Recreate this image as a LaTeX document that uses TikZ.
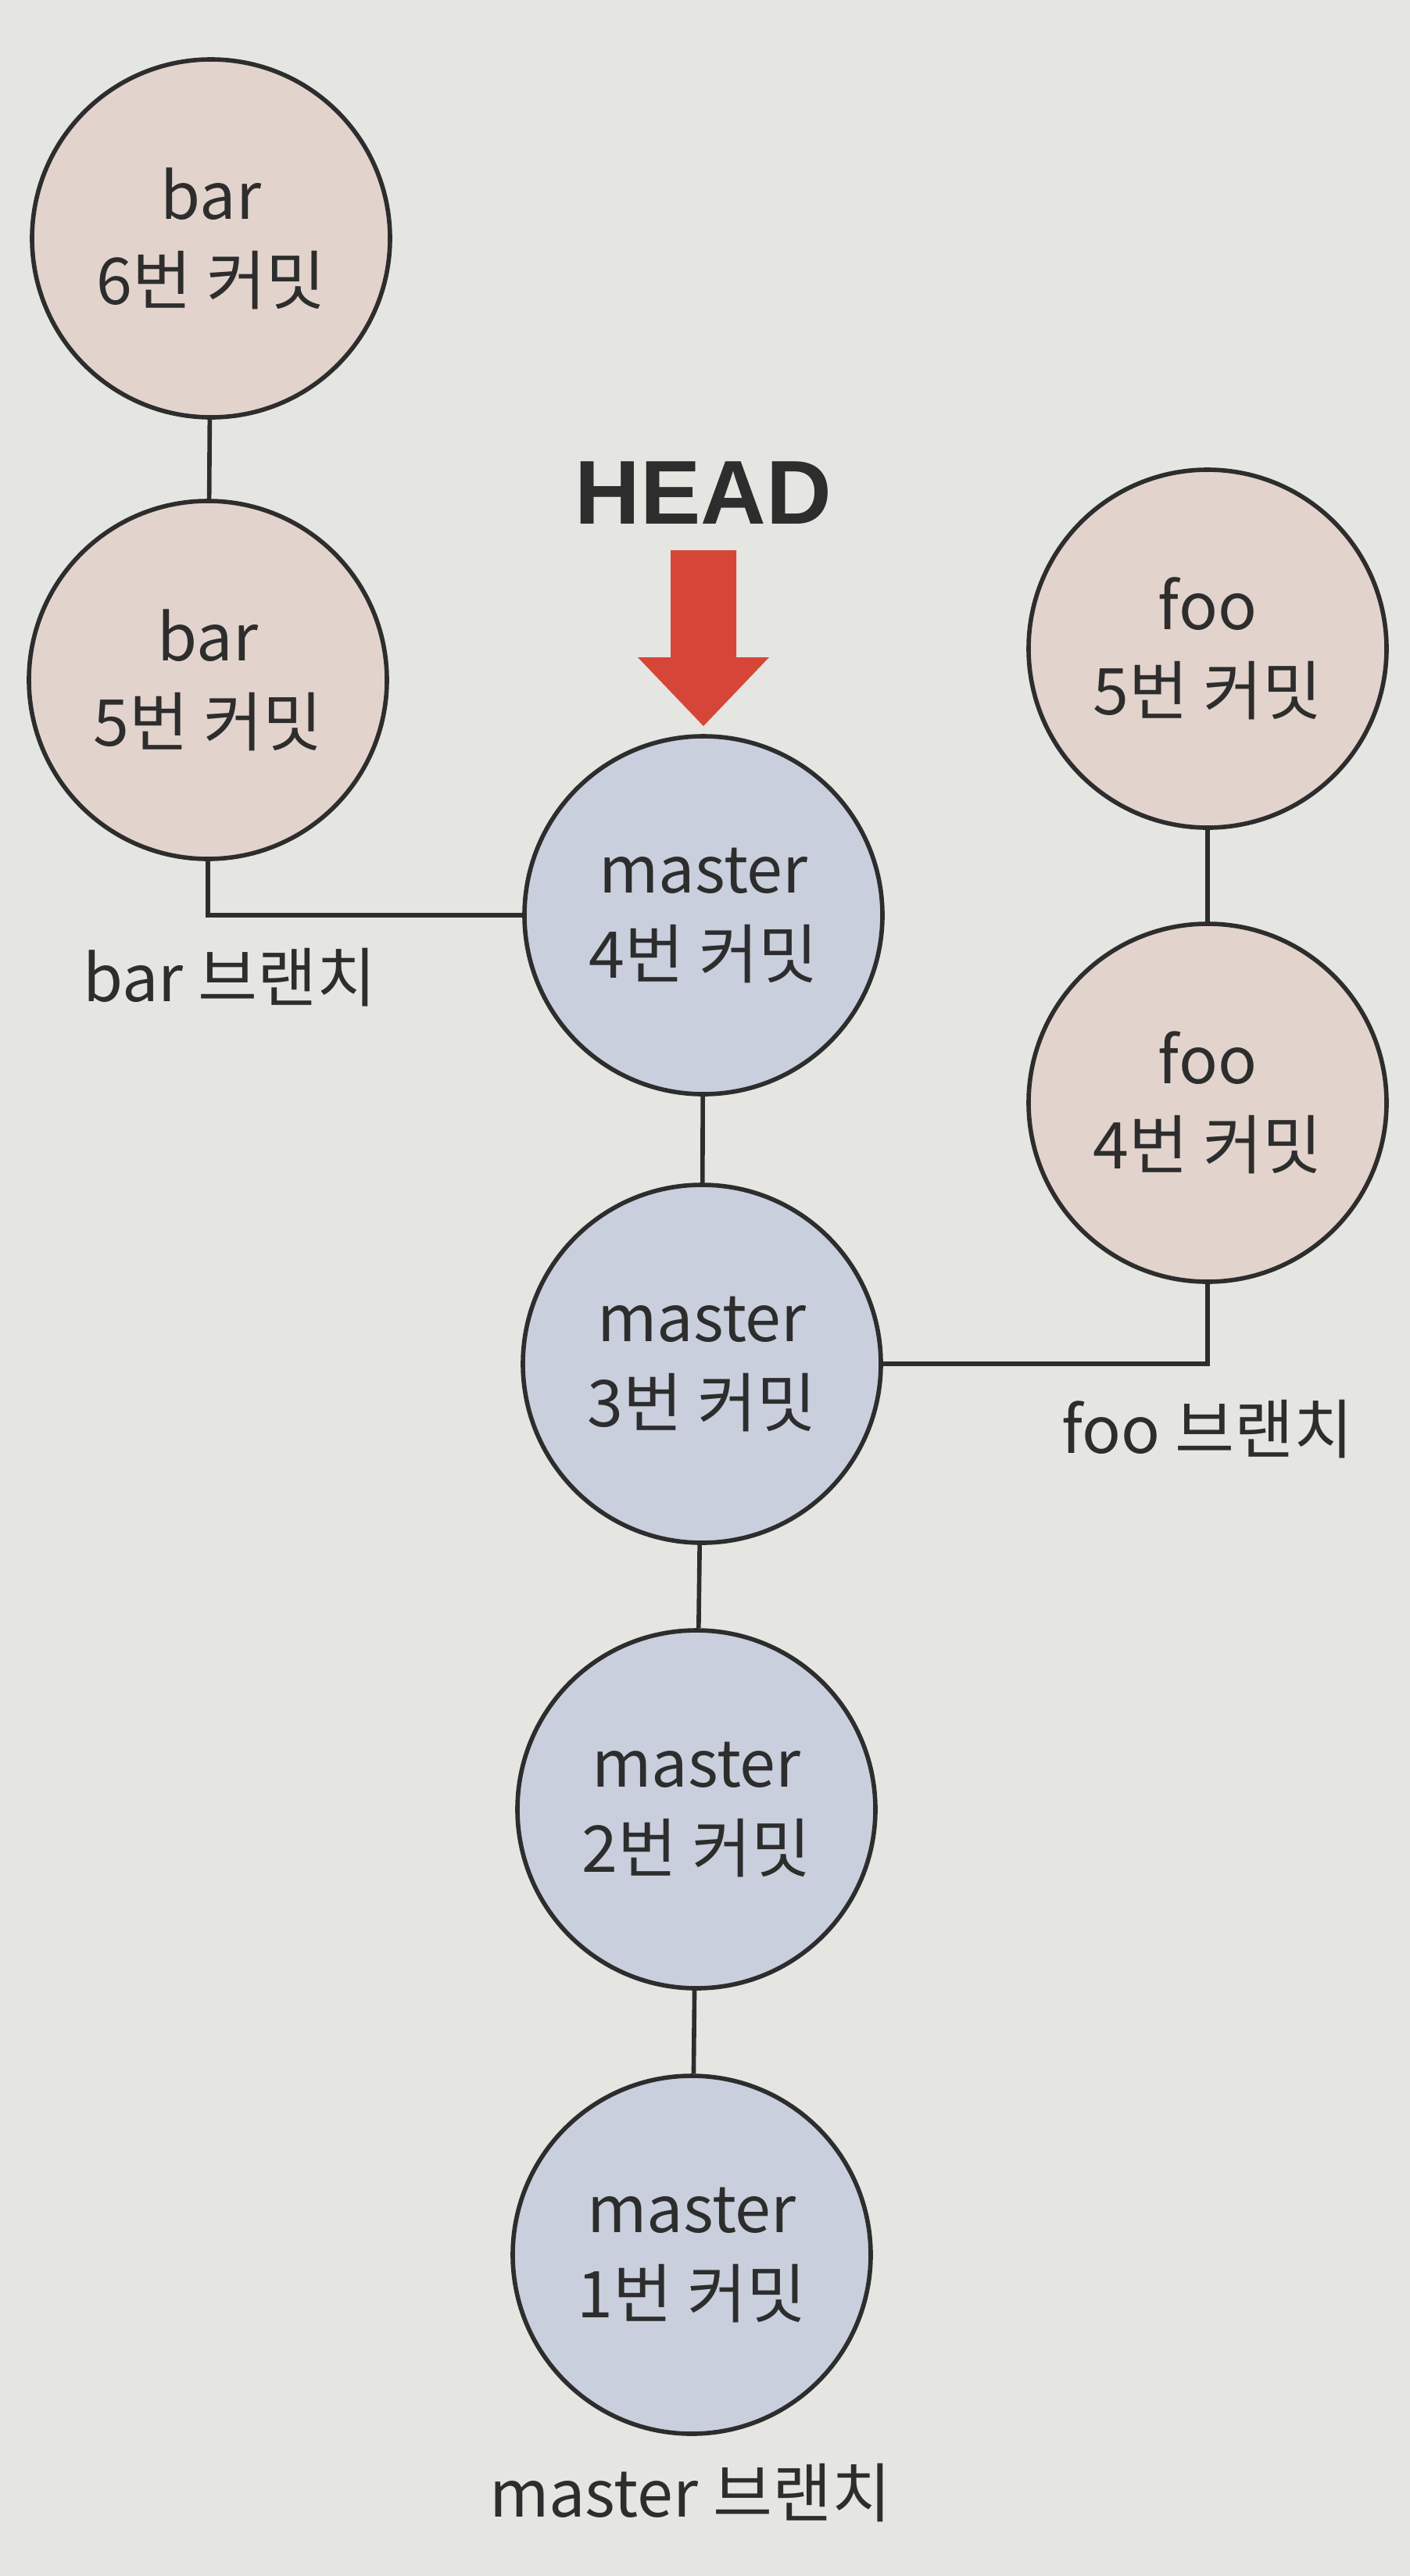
\documentclass[tikz,border=0pt]{standalone}
\usepackage{fontspec}
\setmainfont{Noto Sans CJK KR}
\newfontfamily\headfont{Liberation Sans}
\usepackage{tikz}
\usetikzlibrary{calc}
\usepackage{xcolor}
\definecolor{paper}{RGB}{229,229,226}
\definecolor{barpink}{RGB}{226,211,205}
\definecolor{masterblue}{RGB}{201,207,220}
\definecolor{headred}{RGB}{214,70,56}
\definecolor{ink}{RGB}{45,45,45}

\tikzset{
  commit/.style={circle, draw=ink, line width=1.6pt, minimum size=4.58cm,
    inner sep=0pt, align=center, text=ink, font=\fontsize{23.5}{31}\selectfont},
  bcommit/.style={commit, fill=barpink},
  mcommit/.style={commit, fill=masterblue},
  branchlabel/.style={text=ink, font=\fontsize{23.5}{28}\selectfont},
  link/.style={draw=ink, line width=1.6pt}
}

\begin{document}
\begin{tikzpicture}
      %► Page and background
      \fill[paper] (0,0) rectangle (18.04,-32.96);
      \useasboundingbox (0,0) rectangle (18.04,-32.96);

      %► bar branch
      \node[bcommit] (bar6) at (2.70,-3.05)  {bar\\6번 커밋};
      \node[bcommit] (bar5) at (2.66,-8.70)  {bar\\5번 커밋};

      %► foo branch
      \node[bcommit] (foo5) at (15.45,-8.30)  {foo\\5번 커밋};
      \node[bcommit] (foo4) at (15.45,-14.11) {foo\\4번 커밋};

      %► master branch
      \node[mcommit] (m4) at (9.00,-11.71) {master\\4번 커밋};
      \node[mcommit] (m3) at (8.98,-17.45) {master\\3번 커밋};
      \node[mcommit] (m2) at (8.91,-23.15) {master\\2번 커밋};
      \node[mcommit] (m1) at (8.85,-28.85) {master\\1번 커밋};

      %► HEAD pointer
      \node[text=ink, font=\headfont\bfseries\fontsize{33}{36}\selectfont] (head) at (9.00,-6.31) {HEAD};
      \coordinate (T) at (9.00,-9.29);   % arrow tip
      \def\shaft{0.42}
      \def\wing{0.84}
      \fill[headred] ($(T)+(-\shaft,2.25)$) -- ($(T)+(\shaft,2.25)$)
        -- ($(T)+(\shaft,0.88)$) -- ($(T)+(\wing,0.88)$) -- (T)
        -- ($(T)+(-\wing,0.88)$) -- ($(T)+(-\shaft,0.88)$) -- cycle;

      %► Connectors
      \draw[link] (bar6) -- (bar5);
      \draw[link] (foo5) -- (foo4);
      \draw[link] (m4) -- (m3);
      \draw[link] (m3) -- (m2);
      \draw[link] (m2) -- (m1);
      \draw[link] (bar5.south) |- (m4.west);
      \draw[link] (m3.east) -| (foo4.south);

      %► Branch labels
      \node[branchlabel] (barlbl) at (2.94,-12.51) {bar 브랜치};
      \node[branchlabel] (foolbl) at (15.45,-18.29) {foo 브랜치};
      \node[branchlabel] (mlbl)   at (8.83,-31.90) {master 브랜치};
    \end{tikzpicture}
\end{document}
